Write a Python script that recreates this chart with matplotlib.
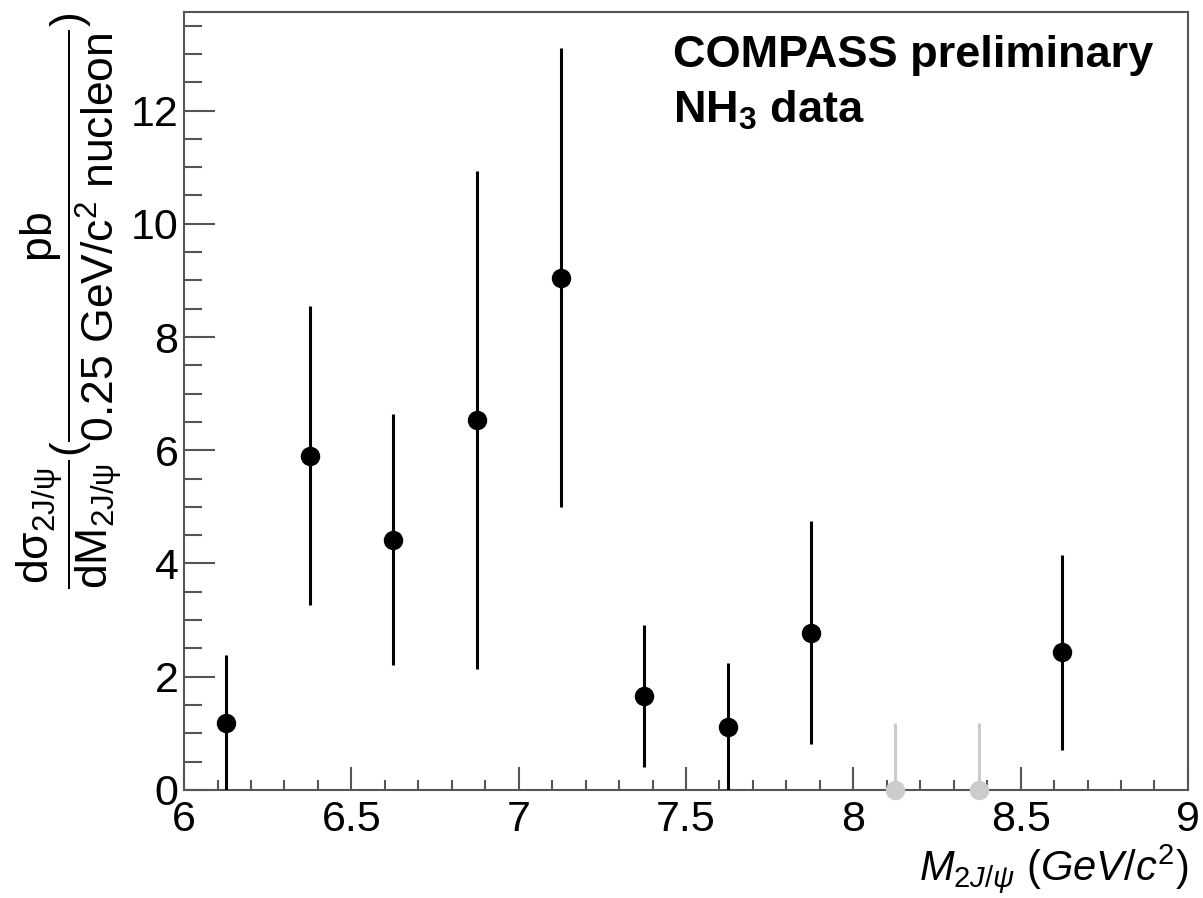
import matplotlib
matplotlib.use("Agg")
import matplotlib.pyplot as plt
from matplotlib.ticker import MultipleLocator

plt.rcParams['font.family'] = ['Liberation Sans', 'DejaVu Sans']
plt.rcParams['mathtext.fontset'] = 'custom'
plt.rcParams['mathtext.rm'] = 'Liberation Sans'
plt.rcParams['mathtext.it'] = 'Liberation Sans:italic'
plt.rcParams['mathtext.bf'] = 'Liberation Sans:bold'

# bin centres (0.25 GeV/c^2 bins) and measured values
mass = [6.125, 6.375, 6.625, 6.875, 7.125, 7.375, 7.625, 7.875, 8.625]
xsec = [1.19, 5.90, 4.42, 6.53, 9.05, 1.66, 1.12, 2.78, 2.43]
err = [1.19, 2.64, 2.22, 4.40, 4.05, 1.26, 1.13, 1.97, 1.72]

# empty bins (upper error only, drawn in grey)
mass_empty = [8.125, 8.375]
xsec_empty = [0.0, 0.0]
err_empty = [1.19, 1.19]

fig = plt.figure(figsize=(12.03, 8.98), dpi=100)
ax = fig.add_axes([0.153, 0.1203, 0.8345, 0.8663])

ax.errorbar(mass_empty, xsec_empty, yerr=[[0, 0], err_empty], fmt='o',
            color='#cccccc', ms=13, elinewidth=2.2, capsize=0, clip_on=False, zorder=3)
ax.errorbar(mass, xsec, yerr=err, fmt='o', color='black', ms=13,
            elinewidth=2.2, capsize=0, zorder=4)

ax.set_xlim(6, 9)
ax.set_ylim(0, 13.74)

ax.xaxis.set_minor_locator(MultipleLocator(0.1))
ax.yaxis.set_major_locator(MultipleLocator(2))
ax.yaxis.set_minor_locator(MultipleLocator(0.5))
ax.set_xticks([6, 6.5, 7, 7.5, 8, 8.5, 9])
ax.set_xticklabels(['6', '6.5', '7', '7.5', '8', '8.5', '9'])

ax.tick_params(axis='both', which='both', direction='in', top=False, right=False,
               color='#555555', width=1.5, labelsize=31)
ax.tick_params(axis='x', which='major', length=16.5, pad=7)
ax.tick_params(axis='x', which='minor', length=7)
ax.tick_params(axis='y', which='major', length=22, pad=4)
ax.tick_params(axis='y', which='minor', length=13)
for s in ax.spines.values():
    s.set_color('#555555')
    s.set_linewidth(1.5)

ax.set_xlabel(r'$\mathit{M_{2J/\psi}\ (GeV/c^{2})}$', fontsize=30, loc='right', labelpad=2)
ax.set_ylabel(r'$\dfrac{\mathrm{d\sigma_{2J/\psi}}}{\mathrm{dM_{2J/\psi}}}'
              r'(\dfrac{\mathrm{pb}}{\mathrm{0.25\ GeV/c^{2}\ nucleon}})$',
              fontsize=32, loc='top', labelpad=4)

ax.text(0.487, 0.929, 'COMPASS preliminary', transform=ax.transAxes,
        fontsize=32.5, fontweight='bold', va='baseline', ha='left')
ax.text(0.487, 0.857, r'NH$_{\mathbf{3}}$ data', transform=ax.transAxes,
        fontsize=32.5, fontweight='bold', va='baseline', ha='left')

fig.savefig('out.png', dpi=100)
